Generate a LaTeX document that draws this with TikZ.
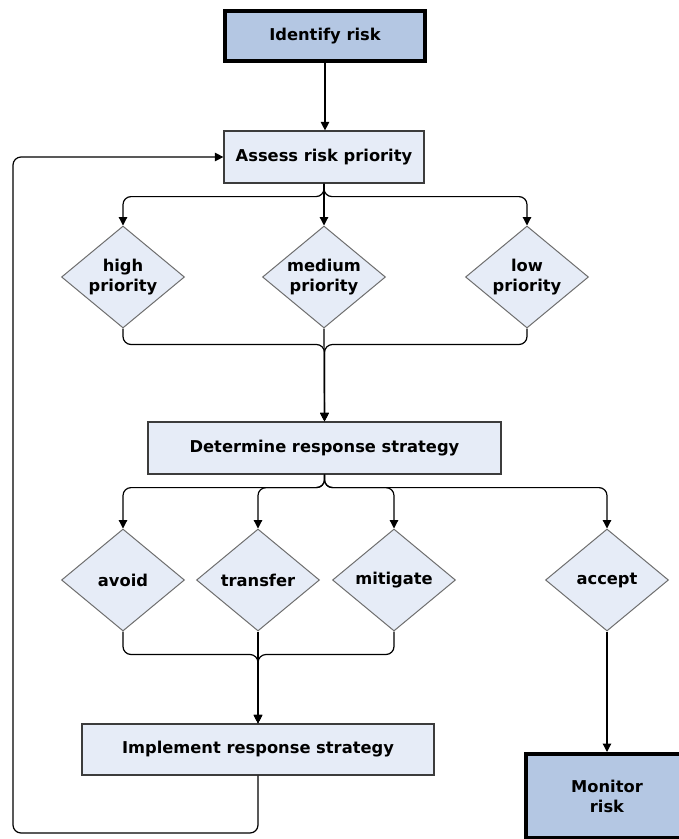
\documentclass[tikz,border=0pt]{standalone}
\usepackage{fontspec}
\setmainfont{DejaVu Sans}
\usepackage{tikz}
\usetikzlibrary{shapes.geometric}
\usetikzlibrary{arrows.meta}
\definecolor{keyFill}{RGB}{180,199,227}
\definecolor{stepFill}{RGB}{230,236,247}
\definecolor{boxLine}{RGB}{60,60,60}
\definecolor{choiceLine}{RGB}{110,110,110}

\begin{document}
\begin{tikzpicture}[x=1pt,y=-1pt,font=\fontsize{16.3}{20}\selectfont\bfseries]

            \tikzstyle{keyNode} = [draw=black, line width=4pt, fill=keyFill, inner sep=0pt, align=center];
            \tikzstyle{stepNode} = [draw=boxLine, line width=1.2pt, fill=stepFill, inner sep=0pt, minimum height=52pt];
            \tikzstyle{choiceNode} = [diamond, aspect=1.2, draw=choiceLine, line width=1pt, fill=stepFill, inner sep=0pt, minimum width=123pt, minimum height=102pt, align=center];

            \tikzstyle{flowEdge} = [line width=1.2pt, rounded corners=8pt, -{Triangle[length=8.5pt,width=8.5pt]}];

            \useasboundingbox (0,0) rectangle (679,839);

            \node[keyNode, minimum width=200pt, minimum height=50pt] (identify) at (325,36) {Identify risk};
            \node[stepNode, minimum width=200pt] (assess) at (324,157) {Assess risk priority};

            \node[choiceNode] (high) at (123,277) {high\\priority};
            \node[choiceNode] (medium) at (324,277) {medium\\priority};
            \node[choiceNode] (low) at (527,277) {low\\priority};

            \node[stepNode, minimum width=353pt] (determine) at (324.5,448) {Determine response strategy};

            \node[choiceNode] (avoid) at (123,580) {avoid};
            \node[choiceNode] (transfer) at (258,580) {transfer};
            \node[choiceNode] (mitigate) at (394,580) {mitigate};
            \node[choiceNode] (accept) at (607,580) {accept};

            \node[stepNode, minimum width=352pt, minimum height=51pt] (implement) at (258,749.5) {Implement response strategy};
            \node[keyNode, minimum width=162pt, minimum height=84pt] (monitor) at (607,796) {Monitor\\risk};

            \coordinate (loopCorner) at (13,833);

            \draw[flowEdge] (identify.south) -- (identify.south |- assess.north);

            \draw[flowEdge] (assess.south) -- ++(0,13) -| (high.north);
            \draw[flowEdge] (assess.south) -- (medium.north);
            \draw[flowEdge] (assess.south) -- ++(0,13) -| (low.north);

            \draw[flowEdge] (high.south) -- ++(0,16) -| (determine.north);
            \draw[flowEdge] (medium.south) -- (determine.north);
            \draw[flowEdge] (low.south) -- ++(0,16) -| (determine.north);

            \draw[flowEdge] (determine.south) -- ++(0,13) -| (avoid.north);
            \draw[flowEdge] (determine.south) -- ++(0,13) -| (transfer.north);
            \draw[flowEdge] (determine.south) -- ++(0,13) -| (mitigate.north);
            \draw[flowEdge] (determine.south) -- ++(0,13) -| (accept.north);

            \draw[flowEdge] (avoid.south) -- ++(0,23) -| (implement.north);
            \draw[flowEdge] (transfer.south) -- (implement.north);
            \draw[flowEdge] (mitigate.south) -- ++(0,23) -| (implement.north);

            \draw[flowEdge] (accept.south) -- (monitor.north);

            \draw[flowEdge] (implement.south) |- (loopCorner) |- (assess.west);
          \end{tikzpicture}
\end{document}
